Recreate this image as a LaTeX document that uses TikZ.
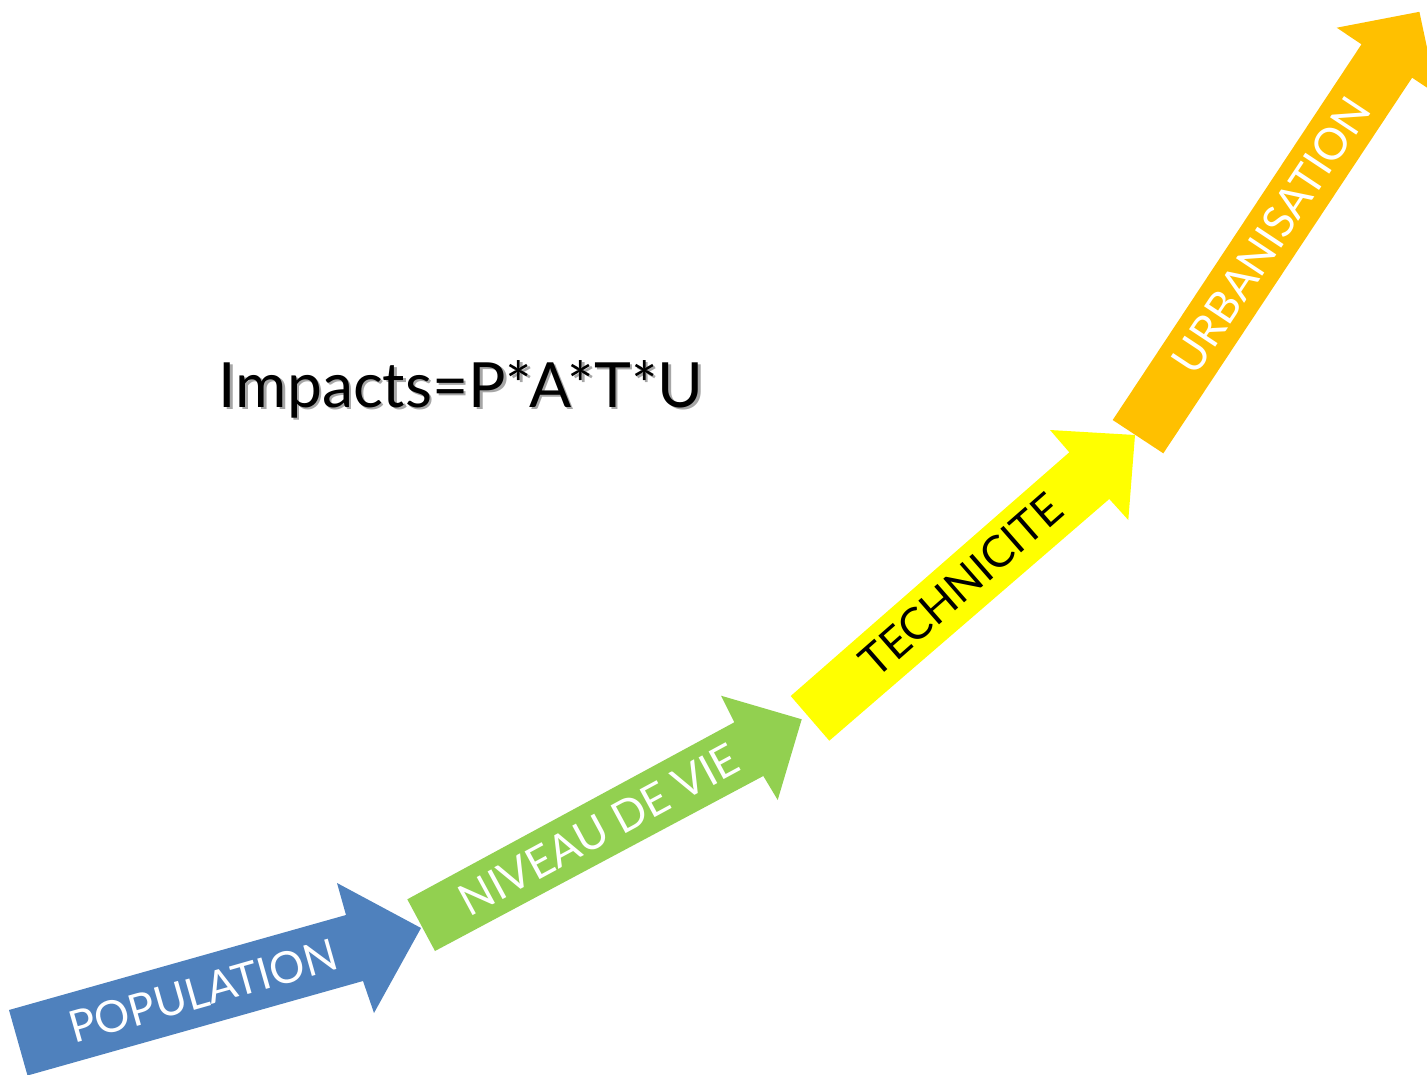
\documentclass[tikz,border=0pt]{standalone}
\usepackage{fontspec}
\setmainfont{Lato}
\definecolor{popblue}{HTML}{4F81BD}
\definecolor{viegreen}{HTML}{92D050}
\definecolor{techyellow}{HTML}{FFFF00}
\definecolor{urborange}{HTML}{FFC000}
\tikzset{
	etiquette/.style={font=\fontsize{25}{30}\selectfont, inner sep=0pt},
	titre/.style={font=\fontsize{35.5}{42}\selectfont, inner sep=0pt},
}
\begin{document}
\begin{tikzpicture}[x=0.02cm, y=-0.02cm]
			%%%%% START %%%%%
			
			\useasboundingbox (0, 0) rectangle (1427, 1075);
			\clip (0, 0) rectangle (1427, 1075);
			
			\fill[popblue] (9, 1010) -- (346, 915) -- (337, 883) -- (421, 928) -- (374, 1013) -- (363, 981) -- (27.5, 1075.5) -- cycle;
			\fill[viegreen] (407.3, 899.3) -- (734.3, 722.3) -- (721, 695.7) -- (801.7, 719.3) -- (777.7, 800) -- (763.3, 776) -- (435, 951) -- cycle;
			\fill[techyellow] (790.7, 696) -- (1069.3, 452.3) -- (1050, 430) -- (1135, 435) -- (1128.3, 520) -- (1109.3, 499) -- (829.3, 740.7) -- cycle;
			\fill[urborange] (1112.7, 420) -- (1361.5, 44.3) -- (1336.7, 27.7) -- (1419.4, 11.8) -- (1436.9, 94.2) -- (1412.1, 77.7) -- (1163.3, 453.3) -- cycle;
			
			\node[etiquette, text=white, rotate=15.9] (population) at (203, 991) {POPULATION};
			\node[etiquette, text=white, rotate=28.4] (niveau) at (599, 830) {NIVEAU DE VIE};
			\node[etiquette, text=black, rotate=41.2] (technicite) at (961, 585) {TECHNICITE};
			\node[etiquette, text=white, rotate=56.5] (urbanisation) at (1271, 235) {URBANISATION};
			
			\node[titre, text=black!35] (titreombre) at (463.5, 391.5) {Impacts=P*A*T*U};
			\node[titre] (formule) at (461, 389) {Impacts=P*A*T*U};
			
			%%%%% END %%%%%
\end{tikzpicture}
\end{document}
